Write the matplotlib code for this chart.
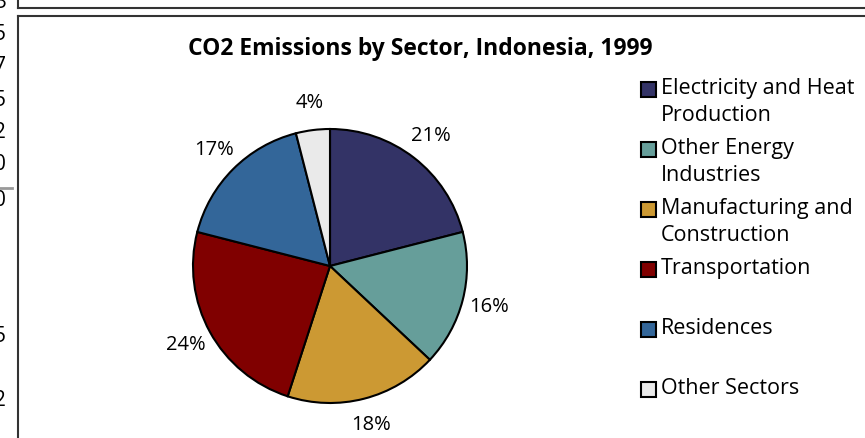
import matplotlib
matplotlib.use("Agg")
import matplotlib.pyplot as plt
from matplotlib.patches import Rectangle

W, H = 865, 438

# ---------------------------------------------------------------------------
# Data
# ---------------------------------------------------------------------------
sectors = ["Electricity and Heat\nProduction", "Other Energy\nIndustries",
           "Manufacturing and\nConstruction", "Transportation",
           "Residences", "Other Sectors"]
shares = [21, 16, 18, 24, 17, 4]
colors = ["#333366", "#669E9A", "#CC9933", "#800000", "#336699", "#EAEAEA"]
title = "CO2 Emissions by Sector, Indonesia, 1999"

# cut-off tick digits of the neighbouring chart on the left edge
edge_digits = ["3", "5", "7", "5", "2", "0", "0", "5", "2"]
edge_digit_y = [3, 35, 67, 100, 133, 165, 200, 337, 400]

plt.rcParams["font.family"] = ["Open Sans", "DejaVu Sans"]

fig = plt.figure(figsize=(W / 100, H / 100), dpi=100)
ax = fig.add_axes([0, 0, 1, 1])

# pie (pixel coordinates, y measured from bottom)
wedges, texts, autotexts = ax.pie(
    shares, colors=colors, startangle=90, counterclock=False,
    center=(330, H - 266), radius=137,
    autopct="%d%%", pctdistance=1.2,
    wedgeprops=dict(edgecolor="black", linewidth=1.5),
    textprops=dict(fontsize=14.5, color="black"))

ax.set_xlim(0, W)
ax.set_ylim(0, H)
ax.set_aspect("equal")
ax.axis("off")

# title
ax.text(420, H - 49, title, ha="center", va="center",
        fontsize=16.5, fontweight="bold")

# legend drawn by hand so markers align with first line of each label
for i, (lab, col) in enumerate(zip(sectors, colors)):
    y = H - 89 - 60 * i
    ax.add_patch(Rectangle((640.5, y - 7.5), 15, 15, facecolor=col,
                           edgecolor="black", linewidth=1.5))
    ax.text(661, y + 11, lab, ha="left", va="top", fontsize=15.5,
            linespacing=1.4)

# frames from the surrounding page
ax.plot([18, W + 5], [H - 8, H - 8], color="#333333", lw=1.5)
ax.plot([18, 18], [H - 8, H + 5], color="#333333", lw=1.5)
ax.plot([18, W + 5], [H - 16, H - 16], color="#333333", lw=1.5)
ax.plot([18, 18], [H - 16, -5], color="#333333", lw=1.5)
ax.plot([0, 12], [H - 188, H - 188], color="#999999", lw=2)
for d, y in zip(edge_digits, edge_digit_y):
    ax.text(6, H - y, d, ha="right", va="center", fontsize=15,
            clip_on=True)

fig.savefig("out.png", dpi=100)
